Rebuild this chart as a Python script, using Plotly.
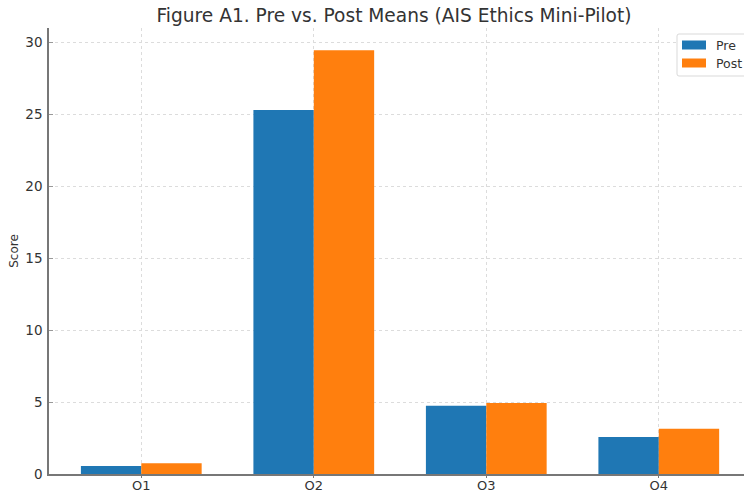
import plotly.graph_objects as go

categories = ["O1", "O2", "O3", "O4"]
pre_values = [0.56, 25.3, 4.75, 2.57]
post_values = [0.74, 29.45, 4.93, 3.15]
y_ticks = [0, 5, 10, 15, 20, 25, 30]
series_names = ["Pre", "Post"]
series_colors = ["#1f77b4", "#ff7f0e"]

W, H = 744, 493
L, R, T, B = 49, 0, 28, 19
PW, PH = W - L - R, H - T - B


def px(x):
    return (x - L) / PW


def py(y):
    return (H - B - y) / PH


fig = go.Figure()
for name, vals, col in zip(series_names, [pre_values, post_values], series_colors):
    fig.add_trace(go.Bar(x=categories, y=vals, name=name, marker_color=col,
                         marker_line_width=0, showlegend=False))

# legend box (cut at right edge like the reference), drawn with shapes + text
shapes = [dict(type="rect", xref="paper", yref="paper", x0=px(677), x1=px(744), y0=py(76), y1=py(34),
               fillcolor="white", line=dict(width=0), layer="above"),
          dict(type="path", xref="paper", yref="paper", layer="above",
               path=f"M {px(744)},{py(34)} L {px(679)},{py(34)} Q {px(677)},{py(34)} {px(677)},{py(36)} "
                    f"L {px(677)},{py(74)} Q {px(677)},{py(76)} {px(679)},{py(76)} L {px(744)},{py(76)}",
               line=dict(color="#d9d9d9", width=1))]
annotations = []
for i, (name, col) in enumerate(zip(series_names, series_colors)):
    yc = 45 + i * 18
    shapes.append(dict(type="rect", xref="paper", yref="paper", x0=px(682), x1=px(706),
                       y0=py(yc + 4.5), y1=py(yc - 4.5), fillcolor=col, line=dict(width=0),
                       layer="above"))
    annotations.append(dict(text=name, xref="paper", yref="paper", x=px(714), y=py(yc),
                            xanchor="left", yanchor="middle", showarrow=False,
                            font=dict(size=12.5, color="#333")))

fig.update_layout(
    width=W, height=H,
    margin=dict(l=L, r=R, t=T, b=B),
    paper_bgcolor="white", plot_bgcolor="white",
    barmode="group", bargap=0.3, bargroupgap=0,
    font=dict(family="DejaVu Sans", size=12, color="#333"),
    title=dict(text="Figure A1. Pre vs. Post Means (AIS Ethics Mini-Pilot)",
               x=394/W, xanchor="center", y=1-15/H, yanchor="middle",
               font=dict(size=18.6, color="#333")),
    showlegend=False,
    shapes=shapes, annotations=annotations,
)
fig.update_xaxes(range=[-0.535, 3.494], showline=True, linecolor="#777", linewidth=1.5,
                 showgrid=True, gridcolor="#dcdcdc", griddash="dot", gridwidth=1,
                 ticks="outside", ticklen=2, tickcolor="#777", ticklabelstandoff=-3,
                 tickfont=dict(size=13, color="#333"), automargin=False)
fig.update_yaxes(range=[0, 31.0], tickvals=y_ticks, showline=True, linecolor="#777", linewidth=1.5,
                 showgrid=True, gridcolor="#dcdcdc", griddash="dot", gridwidth=1,
                 ticks="inside", ticklen=4, tickcolor="#999", zeroline=False,
                 ticklabelstandoff=2,
                 tickfont=dict(size=13.5, color="#333"), automargin=False,
                 title=dict(text="Score", font=dict(size=12, color="#333"), standoff=4))

fig.write_html("out.html", config={"displayModeBar": False},
               post_script="document.body.style.margin='0';document.documentElement.style.overflow='hidden';")
